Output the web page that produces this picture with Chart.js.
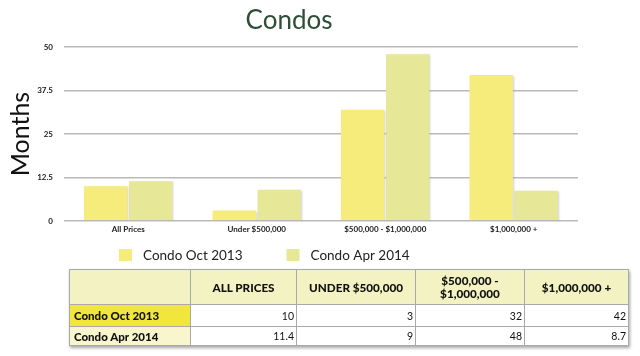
<!DOCTYPE html>
<html>
<head>
<meta charset="utf-8">
<script src="https://cdn.jsdelivr.net/npm/chart.js@4/dist/chart.umd.min.js"></script>
<style>
  html, body { margin: 0; padding: 0; background: #ffffff; }
  body { width: 640px; height: 356px; position: relative; overflow: hidden; font-family: Lato, "Open Sans", sans-serif; }
  #wrap { position: absolute; left: 0; top: 0; width: 640px; height: 273px; }
  #tbl { position: absolute; left: 69px; top: 269px; border-collapse: collapse; box-shadow: 1px 2px 3px rgba(0,0,0,0.35); }
  #tbl td, #tbl th { border: 1px solid #a9a9a9; padding: 0; color: #111; }
  #tbl th { background: #f3f2c2; font-weight: 900; font-size: 11.7px; text-align: center; line-height: 13px; height: 34px; }
  #tbl td.lab { font-weight: 900; font-size: 11.5px; text-align: left; padding-left: 4px; }
  #tbl td.num { background: #fff; font-size: 10.5px; text-align: right; padding-right: 2px; }
  #tbl tr.r1 td { height: 21px; }
  #tbl tr.r2 td { height: 18px; }
</style>
</head>
<body>
<div id="wrap"><canvas id="c"></canvas></div>
<table id="tbl"></table>
<script>
const categories = ['All Prices', 'Under $500,000', '$500,000 - $1,000,000', '$1,000,000 +'];
const tableHeaders = ['ALL PRICES', 'UNDER $500,000', '$500,000 -\n$1,000,000', '$1,000,000 +'];
const seriesNames = ['Condo Oct 2013', 'Condo Apr 2014'];
const oct2013 = [10, 3, 32, 42];
const apr2014 = [11.4, 9, 48, 8.7];
const oct2013Text = ['10', '3', '32', '42'];
const apr2014Text = ['11.4', '9', '48', '8.7'];
const yTicks = [0, 12.5, 25, 37.5, 50];

const barColors = ['#f6ec7b', '#e6e897'];
const labelCellColors = ['#f1e63c', '#f9f6cd'];
const colWidths = [121, 106, 119, 109, 104];

// Build table from arrays
(function buildTable() {
  const t = document.getElementById('tbl');
  let html = '<tr><th style="width:' + (colWidths[0]-1) + 'px"></th>';
  tableHeaders.forEach((h, i) => {
    html += '<th style="width:' + (colWidths[i+1]-1) + 'px">' + h.replace('\n', '<br>') + '</th>';
  });
  html += '</tr>';
  const rows = [oct2013Text, apr2014Text];
  rows.forEach((r, ri) => {
    html += '<tr class="r' + (ri+1) + '"><td class="lab" style="background:' + labelCellColors[ri] + '">' + seriesNames[ri] + '</td>';
    r.forEach(v => { html += '<td class="num">' + v + '</td>'; });
    html += '</tr>';
  });
  t.innerHTML = html;
})();

const shadowPlugin = {
  id: 'barShadow',
  beforeDatasetsDraw(chart) {
    const ctx = chart.ctx;
    ctx.save();
    ctx.shadowColor = 'rgba(140,140,190,0.45)';
    ctx.shadowBlur = 2;
    ctx.shadowOffsetX = 1;
    ctx.shadowOffsetY = 1;
  },
  afterDatasetsDraw(chart) {
    chart.ctx.restore();
  }
};

// Legend drawn below the x axis, left-shifted as in the reference
const customLegend = {
  id: 'customLegend',
  afterDraw(chart) {
    const ctx = chart.ctx;
    const startX = 119, gap = 44, boxW = 13, boxH = 12, textGap = 11;
    const y = chart.scales.x.bottom + 16;
    ctx.save();
    ctx.font = '13.5px Lato';
    ctx.textBaseline = 'middle';
    ctx.textAlign = 'left';
    let x = startX;
    chart.data.datasets.forEach(ds => {
      ctx.fillStyle = ds.backgroundColor;
      ctx.fillRect(x, y - boxH / 2, boxW, boxH);
      ctx.fillStyle = '#222';
      ctx.fillText(ds.label, x + boxW + textGap, y + 1);
      x += boxW + textGap + ctx.measureText(ds.label).width + gap;
    });
    ctx.restore();
  }
};

new Chart(document.getElementById('c'), {
  type: 'bar',
  data: {
    labels: categories,
    datasets: [
      { label: seriesNames[0], data: oct2013, backgroundColor: barColors[0], borderWidth: 0,
        categoryPercentage: 0.7, barPercentage: 0.965 },
      { label: seriesNames[1], data: apr2014, backgroundColor: barColors[1], borderWidth: 0,
        categoryPercentage: 0.7, barPercentage: 0.965 }
    ]
  },
  options: {
    responsive: true,
    maintainAspectRatio: false,
    animation: false,
    layout: { padding: { left: 0, right: 62, top: 0, bottom: 34 } },
    plugins: {
      title: {
        display: true,
        text: 'Condos',
        color: '#2f4e37',
        font: { family: 'Lato', size: 26, weight: 'normal' },
        padding: { top: 5, bottom: 11 }
      },
      legend: { display: false },
      tooltip: { enabled: false }
    },
    scales: {
      x: {
        grid: { display: false, drawTicks: false },
        border: { display: false },
        ticks: { color: '#222', font: { family: 'Lato', size: 8, weight: 'bold' }, padding: 4, maxRotation: 0, autoSkip: false },
        afterFit(s) { s.height = 18; }
      },
      y: {
        min: 0, max: 50,
        afterBuildTicks(s) { s.ticks = yTicks.map(v => ({ value: v })); },
        grid: { color: '#b9b9b9', lineWidth: 1.5, drawTicks: false },
        border: { display: false },
        ticks: { color: '#222', font: { family: 'Lato', size: 8, weight: 'bold' }, padding: 11,
                 callback: v => String(v) },
        title: { display: true, text: 'Months', color: '#111', font: { family: 'Lato', size: 25 }, padding: { top: 6, bottom: 0 } },
        afterFit(s) { s.width = 64; }
      }
    }
  },
  plugins: [shadowPlugin, customLegend]
});
</script>
</body>
</html>
